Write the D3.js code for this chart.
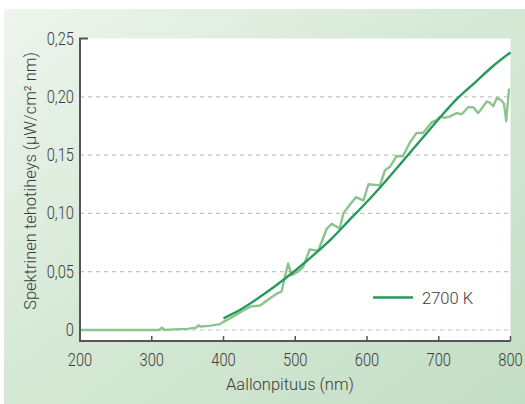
<!DOCTYPE html>
<html>
<head>
<meta charset="utf-8">
<script src="https://cdn.jsdelivr.net/npm/d3@7"></script>
<style>
  body { margin: 0; background: #fff; }
  svg text { font-family: Roboto, "Liberation Sans", sans-serif; font-weight: 300; fill: #3c3c3c; }
</style>
</head>
<body>
<svg id="drawing_region"></svg>
<script>
// mitattu spektri (vaalea käyrä)
const measuredNm = [200, 250, 300, 310, 314, 318, 330, 350, 362, 365, 368, 380, 395, 400, 409, 423, 437, 451, 462, 474, 481, 490, 495, 504, 511, 520, 532, 544, 551, 562, 567, 578, 585, 595, 602, 618, 625, 632, 641, 650, 660, 669, 678, 690, 697, 702, 708, 715, 725, 732, 741, 748, 755, 767, 771, 776, 781, 787, 791, 794, 798];
const measuredVal = [0, 0, 0, 0, 0.002, 0, 0.0005, 0.001, 0.002, 0.004, 0.003, 0.0035, 0.005, 0.007, 0.010, 0.015, 0.020, 0.021, 0.026, 0.031, 0.033, 0.057, 0.047, 0.050, 0.054, 0.069, 0.068, 0.087, 0.091, 0.087, 0.100, 0.109, 0.114, 0.111, 0.125, 0.124, 0.137, 0.140, 0.149, 0.149, 0.161, 0.169, 0.169, 0.178, 0.180, 0.183, 0.182, 0.183, 0.186, 0.185, 0.191, 0.191, 0.186, 0.196, 0.195, 0.192, 0.199, 0.197, 0.194, 0.179, 0.207];

// 2700 K vertailukäyrä
const refNm = [400, 425, 450, 475, 500, 525, 550, 575, 600, 625, 650, 675, 700, 725, 750, 775, 800];
const refVal = [0.010, 0.018, 0.028, 0.039, 0.051, 0.064, 0.078, 0.094, 0.110, 0.127, 0.145, 0.163, 0.181, 0.198, 0.212, 0.226, 0.238];

const xTicks = [200, 300, 400, 500, 600, 700, 800];
const yTicks = [0, 0.05, 0.10, 0.15, 0.20, 0.25];
const legendLabel = '2700 K';

var config = {
    parent: '#drawing_region',
    width: 525,
    height: 404,
    left: 80, right: 510.5,
    top: 38.5, zero: 330, axisY: 341
};

class SpectrumChart {

    constructor(config) {
        this.config = config;
        this.measured = measuredNm.map((nm, i) => ({ x: nm, y: measuredVal[i] }));
        this.reference = refNm.map((nm, i) => ({ x: nm, y: refVal[i] }));
        this.init();
    }

    init() {
        let self = this;
        const c = self.config;

        self.svg = d3.select(c.parent)
            .attr('width', c.width)
            .attr('height', c.height);

        const grad = self.svg.append('defs').append('linearGradient')
            .attr('id', 'bg')
            .attr('x1', '0%').attr('y1', '0%')
            .attr('x2', '100%').attr('y2', '100%');
        grad.append('stop').attr('offset', '0%').attr('stop-color', '#eef5ee');
        grad.append('stop').attr('offset', '45%').attr('stop-color', '#d6e9d6');
        grad.append('stop').attr('offset', '100%').attr('stop-color', '#c4dec5');

        self.xscale = d3.scaleLinear().domain([200, 800]).range([c.left, c.right]);
        self.yscale = d3.scaleLinear().domain([0, 0.25]).range([c.zero, c.top]);

        self.line = d3.line()
            .x(d => self.xscale(d.x))
            .y(d => self.yscale(d.y));
    }

    update() {
        this.render();
    }

    render() {
        let self = this;
        const c = self.config;

        // tausta
        self.svg.append('rect')
            .attr('x', 4).attr('y', 9)
            .attr('width', c.width - 4).attr('height', c.height - 9)
            .attr('fill', 'url(#bg)');

        self.svg.append('rect')
            .attr('x', c.left).attr('y', c.top)
            .attr('width', c.right - c.left).attr('height', c.axisY - c.top)
            .attr('fill', '#fff');

        // katkoviivat
        self.svg.selectAll('.grid')
            .data(yTicks.filter(t => t < 0.25))
            .enter()
            .append('line')
            .attr('x1', c.left).attr('x2', c.right)
            .attr('y1', d => self.yscale(d)).attr('y2', d => self.yscale(d))
            .attr('stroke', '#c4c4c4')
            .attr('stroke-width', 1.2)
            .attr('stroke-dasharray', '4,4');

        // käyrät
        self.svg.append('path')
            .datum(self.measured)
            .attr('d', self.line)
            .attr('fill', 'none')
            .attr('stroke', '#8cc38e')
            .attr('stroke-width', 2.4)
            .attr('stroke-linejoin', 'round');

        self.svg.append('path')
            .datum(self.reference)
            .attr('d', self.line.curve(d3.curveMonotoneX))
            .attr('fill', 'none')
            .attr('stroke', '#27995a')
            .attr('stroke-width', 2.4);

        // akselit
        self.svg.append('path')
            .attr('d', `M${c.left + 8},${c.top} H${c.left} V${c.axisY} H${c.right}`)
            .attr('fill', 'none')
            .attr('stroke', '#555')
            .attr('stroke-width', 2);

        self.svg.selectAll('.xtick')
            .data(xTicks.slice(1))
            .enter()
            .append('line')
            .attr('x1', d => self.xscale(d)).attr('x2', d => self.xscale(d))
            .attr('y1', c.axisY).attr('y2', c.axisY - 5)
            .attr('stroke', '#555')
            .attr('stroke-width', 1.5);

        self.svg.selectAll('.xlabel')
            .data(xTicks)
            .enter()
            .append('text')
            .attr('transform', d => `translate(${self.xscale(d)},366) scale(0.84,1)`)
            .attr('text-anchor', 'middle')
            .style('font-size', '17.5px')
            .text(d => d);

        self.svg.selectAll('.ylabel')
            .data(yTicks)
            .enter()
            .append('text')
            .attr('transform', d => `translate(74,${self.yscale(d) + 6}) scale(0.84,1)`)
            .attr('text-anchor', 'end')
            .style('font-size', '17.5px')
            .text(d => d === 0 ? '0' : d3.format('.2f')(d).replace('.', ','));

        self.svg.append('text')
            .attr('x', 290).attr('y', 390)
            .attr('text-anchor', 'middle')
            .style('font-size', '16.5px')
            .text('Aallonpituus (nm)');

        self.svg.append('text')
            .attr('transform', 'translate(36,181) rotate(-90)')
            .attr('text-anchor', 'middle')
            .style('font-size', '16.5px')
            .text('Spektrinen tehotiheys (µW/cm² nm)');

        // selite
        self.svg.append('line')
            .attr('x1', 373).attr('x2', 413)
            .attr('y1', 297.5).attr('y2', 297.5)
            .attr('stroke', '#27995a')
            .attr('stroke-width', 2.4);

        self.svg.append('text')
            .attr('x', 422).attr('y', 303.5)
            .style('font-size', '16.5px')
            .text(legendLabel);
    }
}

const chart = new SpectrumChart(config);
chart.update();
</script>
</body>
</html>
